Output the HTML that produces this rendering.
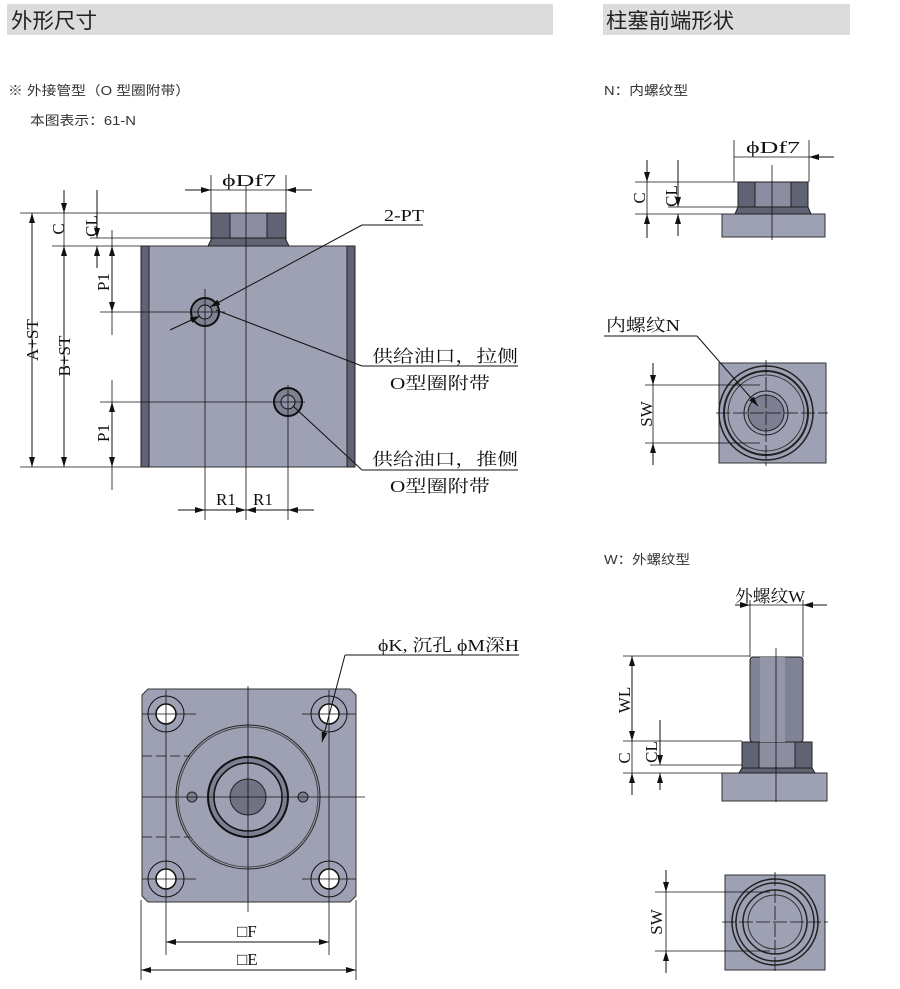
<!DOCTYPE html>
<html><head><meta charset="utf-8"><style>
html,body{margin:0;padding:0;background:#fff;}
svg{display:block;}
.h{font-family:"Liberation Sans","Noto Sans CJK SC",sans-serif;font-size:21px;fill:#222;}
.s{font-family:"Liberation Sans","Noto Sans CJK SC",sans-serif;font-size:13px;fill:#333;}
.d{font-family:"Liberation Serif","Noto Serif CJK SC",serif;font-size:17px;fill:#111;}
.t{stroke:#111;stroke-width:1;fill:none;}
.c{stroke:#111;stroke-width:0.8;fill:none;}
.body{fill:#9da1b3;stroke:#333;stroke-width:1;}
.dark{fill:#5f6373;stroke:#222;stroke-width:1;}
</style></head><body>
<svg width="900" height="989" viewBox="0 0 900 989" xmlns="http://www.w3.org/2000/svg">
<defs><marker id="a" viewBox="0 0 10 6" refX="10" refY="3" markerWidth="10" markerHeight="6" orient="auto-start-reverse" markerUnits="userSpaceOnUse"><path d="M0,0L10,3L0,6z" fill="#111"/></marker></defs>
<rect x="7" y="4" width="546" height="31" fill="#dcdcdc"/>
<rect x="603" y="4" width="247" height="31" fill="#dcdcdc"/>
<text x="11" y="28" class="h" textLength="86" lengthAdjust="spacingAndGlyphs">外形尺寸</text>
<text x="606" y="28" class="h" textLength="128" lengthAdjust="spacingAndGlyphs">柱塞前端形状</text>
<text x="8" y="95" class="s" textLength="182" lengthAdjust="spacingAndGlyphs">※ 外接管型（O 型圈附带）</text>
<text x="30" y="125" class="s" textLength="106" lengthAdjust="spacingAndGlyphs">本图表示：61-N</text>
<text x="604" y="95" class="s" textLength="84" lengthAdjust="spacingAndGlyphs">N：内螺纹型</text>
<text x="604" y="564" class="s" textLength="86" lengthAdjust="spacingAndGlyphs">W：外螺纹型</text>

<!-- TOP VIEW -->
<rect x="141" y="246" width="214" height="221" class="body"/>
<rect x="141" y="246" width="8" height="221" class="dark"/>
<rect x="347" y="246" width="8" height="221" class="dark"/>
<rect x="211" y="213" width="75" height="26" class="dark" fill="#6b6f80"/>
<rect x="230" y="213" width="37" height="26" fill="#8a8ea0" stroke="#222"/>
<path d="M208,246L212,238H285L289,246Z" class="dark"/>
<line x1="246" y1="186" x2="246" y2="520" class="c"/>
<circle cx="205" cy="312" r="14" fill="#7d8192" stroke="#111" stroke-width="2"/>
<circle cx="205" cy="312" r="7" fill="#8e92a4" stroke="#111"/>
<circle cx="288" cy="402" r="14" fill="#7d8192" stroke="#111" stroke-width="2"/>
<circle cx="288" cy="402" r="7" fill="#8e92a4" stroke="#111"/>
<line x1="205" y1="289" x2="205" y2="520" class="c"/>
<line x1="288" y1="385" x2="288" y2="520" class="c"/>
<line x1="100" y1="312" x2="225" y2="312" class="c"/>
<line x1="100" y1="402" x2="305" y2="402" class="c"/>
<line x1="211" y1="175" x2="211" y2="213" class="c"/>
<line x1="286" y1="175" x2="286" y2="213" class="c"/>
<line x1="185" y1="190" x2="211" y2="190" class="t" marker-end="url(#a)"/>
<line x1="211" y1="190" x2="286" y2="190" class="c"/>
<line x1="312" y1="190" x2="286" y2="190" class="t" marker-end="url(#a)"/>
<text x="222" y="186" class="d" textLength="54" lengthAdjust="spacingAndGlyphs">ϕDf7</text>
<line x1="20" y1="213" x2="211" y2="213" class="c"/>
<line x1="90" y1="238" x2="211" y2="238" class="c"/>
<line x1="52" y1="246" x2="141" y2="246" class="c"/>
<line x1="20" y1="467" x2="141" y2="467" class="c"/>
<line x1="32" y1="213" x2="32" y2="467" class="t" marker-start="url(#a)" marker-end="url(#a)"/>
<text transform="translate(38,340) rotate(-90)" text-anchor="middle" class="d">A+ST</text>
<line x1="64" y1="246" x2="64" y2="467" class="t" marker-start="url(#a)" marker-end="url(#a)"/>
<text transform="translate(70,356) rotate(-90)" text-anchor="middle" class="d">B+ST</text>
<line x1="64" y1="190" x2="64" y2="213" class="t" marker-end="url(#a)"/>
<line x1="64" y1="213" x2="64" y2="246" class="c"/>
<text transform="translate(64,229) rotate(-90)" text-anchor="middle" class="d">C</text>
<line x1="97" y1="190" x2="97" y2="238" class="t" marker-end="url(#a)"/>
<line x1="97" y1="268" x2="97" y2="246" class="t" marker-end="url(#a)"/>
<text transform="translate(97,226) rotate(-90)" text-anchor="middle" class="d">CL</text>
<line x1="112" y1="230" x2="112" y2="246" class="c"/>
<line x1="112" y1="246" x2="112" y2="312" class="t" marker-start="url(#a)" marker-end="url(#a)"/>
<line x1="112" y1="312" x2="112" y2="335" class="c"/>
<text transform="translate(109,282) rotate(-90)" text-anchor="middle" class="d">P1</text>
<line x1="112" y1="380" x2="112" y2="402" class="c"/>
<line x1="112" y1="402" x2="112" y2="467" class="t" marker-start="url(#a)" marker-end="url(#a)"/>
<line x1="112" y1="467" x2="112" y2="490" class="c"/>
<text transform="translate(109,433) rotate(-90)" text-anchor="middle" class="d">P1</text>
<line x1="178" y1="510" x2="205" y2="510" class="t" marker-end="url(#a)"/>
<line x1="205" y1="510" x2="246" y2="510" class="t" marker-end="url(#a)"/>
<line x1="246" y1="510" x2="288" y2="510" class="t" marker-start="url(#a)"/>
<line x1="314" y1="510" x2="288" y2="510" class="t" marker-end="url(#a)"/>
<text x="216" y="505" class="d">R1</text>
<text x="253" y="505" class="d">R1</text>
<text x="384" y="221" class="d" textLength="40" lengthAdjust="spacingAndGlyphs">2-PT</text>
<line x1="362" y1="225" x2="423" y2="225" class="t"/>
<line x1="362" y1="225" x2="210" y2="307" class="t" marker-end="url(#a)"/>
<line x1="200" y1="316" x2="170" y2="330" class="t" marker-start="url(#a)"/>
<line x1="216" y1="310" x2="362" y2="366" class="t"/>
<line x1="362" y1="366" x2="518" y2="366" class="t"/>
<text x="372" y="362" class="d" textLength="146" lengthAdjust="spacingAndGlyphs">供给油口，拉侧</text>
<text x="390" y="389" class="d" textLength="100" lengthAdjust="spacingAndGlyphs">O型圈附带</text>
<line x1="293" y1="406" x2="362" y2="470" class="t"/>
<line x1="362" y1="470" x2="518" y2="470" class="t"/>
<text x="372" y="465" class="d" textLength="146" lengthAdjust="spacingAndGlyphs">供给油口，推侧</text>
<text x="390" y="492" class="d" textLength="100" lengthAdjust="spacingAndGlyphs">O型圈附带</text>

<!-- BOTTOM VIEW -->
<path d="M148,689H350L356,695V896L350,902H148L142,896V695Z" class="body"/>
<circle cx="248" cy="797" r="72" fill="#9da1b3" stroke="#222"/>
<circle cx="248" cy="797" r="70" fill="none" stroke="#444"/>
<circle cx="248" cy="797" r="40" fill="#7b7f91" stroke="#111" stroke-width="2"/>
<circle cx="248" cy="797" r="34" fill="#9da1b3" stroke="#111" stroke-width="1.5"/>
<circle cx="248" cy="797" r="18" fill="#6e7283" stroke="#222"/>
<circle cx="192" cy="797" r="5" fill="#7b7f91" stroke="#222"/>
<circle cx="303" cy="797" r="5" fill="#7b7f91" stroke="#222"/>
<g fill="#9da1b3" stroke="#111">
<circle cx="166" cy="714" r="18"/><circle cx="329" cy="714" r="18"/>
<circle cx="166" cy="879" r="18"/><circle cx="329" cy="879" r="18"/>
</g>
<g fill="#fff" stroke="#111" stroke-width="1.5">
<circle cx="166" cy="714" r="10"/><circle cx="329" cy="714" r="10"/>
<circle cx="166" cy="879" r="10"/><circle cx="329" cy="879" r="10"/>
</g>
<g class="c">
<line x1="248" y1="686" x2="248" y2="912"/><line x1="142" y1="797" x2="365" y2="797"/>
<line x1="166" y1="690" x2="166" y2="955"/><line x1="329" y1="690" x2="329" y2="955"/>
<line x1="142" y1="714" x2="196" y2="714"/><line x1="302" y1="714" x2="356" y2="714"/>
<line x1="142" y1="879" x2="196" y2="879"/><line x1="302" y1="879" x2="356" y2="879"/>
<line x1="142" y1="756" x2="190" y2="756" stroke-dasharray="10,4"/>
<line x1="142" y1="837" x2="190" y2="837" stroke-dasharray="10,4"/>
<line x1="356" y1="900" x2="356" y2="980"/><line x1="141" y1="900" x2="141" y2="980"/>
</g>
<line x1="166" y1="942" x2="329" y2="942" class="t" marker-start="url(#a)" marker-end="url(#a)"/>
<text x="237" y="937" class="d">□F</text>
<line x1="141" y1="970" x2="356" y2="970" class="t" marker-start="url(#a)" marker-end="url(#a)"/>
<text x="237" y="965" class="d">□E</text>
<text x="378" y="651" class="d" textLength="141" lengthAdjust="spacingAndGlyphs">ϕK, 沉孔 ϕM深H</text>
<line x1="345" y1="655" x2="519" y2="655" class="t"/>
<line x1="345" y1="655" x2="322" y2="742" class="t" marker-end="url(#a)"/>

<!-- N TYPE -->
<rect x="722" y="214" width="103" height="23" class="body"/>
<rect x="738" y="182" width="70" height="25" class="dark" fill="#6b6f80"/>
<rect x="755" y="182" width="36" height="25" fill="#8a8ea0" stroke="#222"/>
<path d="M735,214L738,207H808L811,214Z" class="dark"/>
<line x1="772" y1="165" x2="772" y2="240" class="c"/>
<line x1="734" y1="140" x2="734" y2="182" class="c"/>
<line x1="809" y1="140" x2="809" y2="182" class="c"/>
<line x1="734" y1="157" x2="809" y2="157" class="c"/>
<line x1="834" y1="157" x2="809" y2="157" class="t" marker-end="url(#a)"/>
<text x="746" y="153" class="d" textLength="54" lengthAdjust="spacingAndGlyphs">ϕDf7</text>
<line x1="635" y1="182" x2="738" y2="182" class="c"/>
<line x1="668" y1="207" x2="738" y2="207" class="c"/>
<line x1="635" y1="214" x2="722" y2="214" class="c"/>
<line x1="647" y1="160" x2="647" y2="182" class="t" marker-end="url(#a)"/>
<line x1="647" y1="182" x2="647" y2="214" class="c"/>
<line x1="647" y1="238" x2="647" y2="214" class="t" marker-end="url(#a)"/>
<text transform="translate(645,198) rotate(-90)" text-anchor="middle" class="d">C</text>
<line x1="678" y1="160" x2="678" y2="207" class="t" marker-end="url(#a)"/>
<line x1="678" y1="236" x2="678" y2="214" class="t" marker-end="url(#a)"/>
<text transform="translate(677,196) rotate(-90)" text-anchor="middle" class="d">CL</text>
<text x="606" y="331" class="d" textLength="74" lengthAdjust="spacingAndGlyphs">内螺纹N</text>
<line x1="604" y1="336" x2="697" y2="336" class="t"/>
<rect x="719" y="363" width="107" height="100" class="body"/>
<circle cx="766" cy="413" r="47" fill="#9da1b3" stroke="#222" stroke-width="1.5"/>
<circle cx="766" cy="413" r="42" fill="none" stroke="#222" stroke-width="2"/>
<circle cx="766" cy="413" r="38" fill="none" stroke="#333"/>
<circle cx="766" cy="413" r="22" fill="none" stroke="#222"/>
<circle cx="766" cy="413" r="18" fill="#7b7f91" stroke="#222"/>
<line x1="697" y1="336" x2="758" y2="406" class="t" marker-end="url(#a)"/>
<line x1="766" y1="360" x2="766" y2="466" class="c" stroke-dasharray="14,3"/>
<line x1="716" y1="413" x2="828" y2="413" class="c" stroke-dasharray="14,3"/>
<line x1="645" y1="385" x2="760" y2="385" class="c"/>
<line x1="645" y1="443" x2="760" y2="443" class="c"/>
<line x1="653" y1="363" x2="653" y2="385" class="t" marker-end="url(#a)"/>
<line x1="653" y1="385" x2="653" y2="443" class="c"/>
<line x1="653" y1="465" x2="653" y2="443" class="t" marker-end="url(#a)"/>
<text transform="translate(652,414) rotate(-90)" text-anchor="middle" class="d">SW</text>

<!-- W TYPE -->
<rect x="722" y="773" width="105" height="28" class="body"/>
<path d="M739,773L742,768H812L815,773Z" class="dark"/>
<rect x="742" y="742" width="70" height="26" class="dark" fill="#6b6f80"/>
<rect x="759" y="742" width="36" height="26" fill="#8a8ea0" stroke="#222"/>
<rect x="750" y="657" width="53" height="85" rx="3" fill="#7f8395" stroke="#222"/>
<rect x="760" y="657" width="25" height="85" fill="#9296a8"/>
<line x1="776" y1="648" x2="776" y2="802" class="c"/>
<line x1="750" y1="600" x2="750" y2="657" class="c"/>
<line x1="803" y1="600" x2="803" y2="657" class="c"/>
<line x1="735" y1="605" x2="750" y2="605" class="t" marker-end="url(#a)"/>
<line x1="750" y1="605" x2="803" y2="605" class="c"/>
<line x1="827" y1="605" x2="803" y2="605" class="t" marker-end="url(#a)"/>
<text x="735" y="602" class="d" textLength="70" lengthAdjust="spacingAndGlyphs">外螺纹W</text>
<line x1="623" y1="656" x2="750" y2="656" class="c"/>
<line x1="623" y1="741" x2="742" y2="741" class="c"/>
<line x1="650" y1="765" x2="742" y2="765" class="c"/>
<line x1="623" y1="773" x2="722" y2="773" class="c"/>
<line x1="632" y1="656" x2="632" y2="741" class="t" marker-start="url(#a)" marker-end="url(#a)"/>
<text transform="translate(630,700) rotate(-90)" text-anchor="middle" class="d">WL</text>
<line x1="632" y1="741" x2="632" y2="773" class="c"/>
<line x1="632" y1="795" x2="632" y2="773" class="t" marker-end="url(#a)"/>
<text transform="translate(630,758) rotate(-90)" text-anchor="middle" class="d">C</text>
<line x1="660" y1="720" x2="660" y2="765" class="t" marker-end="url(#a)"/>
<line x1="660" y1="790" x2="660" y2="773" class="t" marker-end="url(#a)"/>
<text transform="translate(657,752) rotate(-90)" text-anchor="middle" class="d">CL</text>
<rect x="725" y="875" width="100" height="95" class="body"/>
<circle cx="775" cy="922" r="43" fill="#9da1b3" stroke="#222" stroke-width="1.5"/>
<circle cx="775" cy="922" r="39" fill="none" stroke="#222" stroke-width="1.5"/>
<circle cx="775" cy="922" r="32" fill="none" stroke="#222" stroke-width="1.5"/>
<circle cx="775" cy="922" r="27" fill="none" stroke="#333"/>
<line x1="775" y1="872" x2="775" y2="973" class="c" stroke-dasharray="14,3"/>
<line x1="722" y1="922" x2="828" y2="922" class="c" stroke-dasharray="14,3"/>
<line x1="655" y1="892" x2="770" y2="892" class="c"/>
<line x1="655" y1="951" x2="770" y2="951" class="c"/>
<line x1="666" y1="870" x2="666" y2="892" class="t" marker-end="url(#a)"/>
<line x1="666" y1="892" x2="666" y2="951" class="c"/>
<line x1="666" y1="973" x2="666" y2="951" class="t" marker-end="url(#a)"/>
<text transform="translate(662,922) rotate(-90)" text-anchor="middle" class="d">SW</text>
</svg>
</body></html>
